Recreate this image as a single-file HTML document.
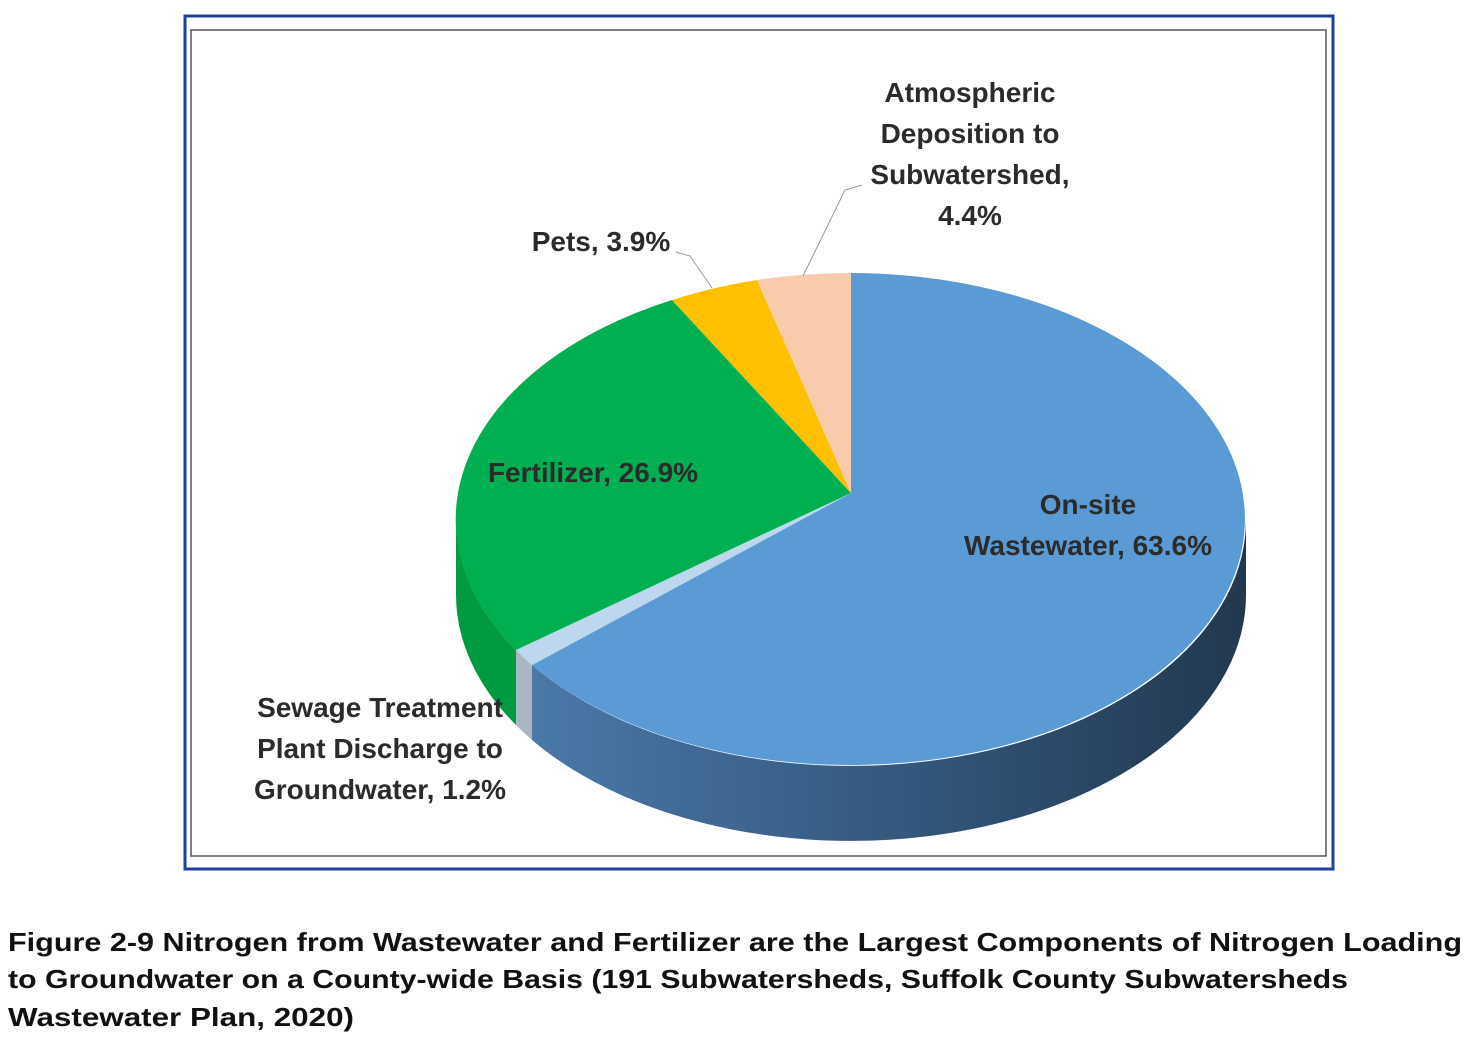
<!DOCTYPE html>
<html><head><meta charset="utf-8"><style>
html,body{margin:0;padding:0;background:#fff;}
svg{display:block}
text{font-family:"Liberation Sans",sans-serif;font-weight:bold;}
</style></head><body>
<svg width="1478" height="1038" viewBox="0 0 1478 1038" xmlns="http://www.w3.org/2000/svg">
<defs>
<linearGradient id="gw" x1="0" x2="1" y1="0" y2="0">
<stop offset="0" stop-color="#4a78a8"/><stop offset="0.5" stop-color="#34597f"/><stop offset="1" stop-color="#22384f"/>
</linearGradient>
</defs>
<rect x="185" y="16" width="1148" height="853" fill="#fff" stroke="#1f3f99" stroke-width="3"/>
<rect x="191" y="30" width="1135" height="826" fill="none" stroke="#555" stroke-width="1.5"/>
<path d="M1246 519 A395 246 0 0 1 532 665 L532 740 A395 246 0 0 0 1246 594 Z" fill="url(#gw)"/>
<path d="M532 665 A395 246 0 0 1 516 650 L516 725 A395 246 0 0 0 532 740 Z" fill="#a9b6c4"/>
<path d="M516 650 A395 246 0 0 1 456 519 L456 594 A395 246 0 0 0 516 725 Z" fill="#009a40"/>
<path d="M851 493 L851 273 A395 246 0 1 1 532 665 Z" fill="#5b9bd5"/>
<path d="M851 493 L532 665 A395 246 0 0 1 516 650 Z" fill="#bdd7ee"/>
<path d="M851 493 L516 650 A395 246 0 0 1 672 300 Z" fill="#00b050"/>
<path d="M851 493 L672 300 A395 246 0 0 1 757 280 Z" fill="#ffc000"/>
<path d="M851 493 L757 280 A395 246 0 0 1 851 273 Z" fill="#f8cbad"/>
<polyline points="676,252 690,256 712,288" fill="none" stroke="#999" stroke-width="1"/>
<polyline points="862,185 845,190 803,276" fill="none" stroke="#999" stroke-width="1"/>
<g fill="#2b2b2b" font-size="28" text-anchor="middle">
<text x="970" y="102">Atmospheric</text>
<text x="970" y="143">Deposition to</text>
<text x="970" y="184">Subwatershed,</text>
<text x="970" y="225">4.4%</text>
<text x="601" y="251">Pets, 3.9%</text>
<text x="593" y="482">Fertilizer, 26.9%</text>
<text x="1088" y="514">On-site</text>
<text x="1088" y="555">Wastewater, 63.6%</text>
<text x="380" y="717">Sewage Treatment</text>
<text x="380" y="758">Plant Discharge to</text>
<text x="380" y="799">Groundwater, 1.2%</text>
</g>
<g fill="#111" font-size="26">
<text x="8" y="951" textLength="1454" lengthAdjust="spacingAndGlyphs">Figure 2-9 Nitrogen from Wastewater and Fertilizer are the Largest Components of Nitrogen Loading</text>
<text x="8" y="988" textLength="1340" lengthAdjust="spacingAndGlyphs">to Groundwater on a County-wide Basis (191 Subwatersheds, Suffolk County Subwatersheds</text>
<text x="8" y="1026" textLength="346" lengthAdjust="spacingAndGlyphs">Wastewater Plan, 2020)</text>
</g>
</svg>
</body></html>
